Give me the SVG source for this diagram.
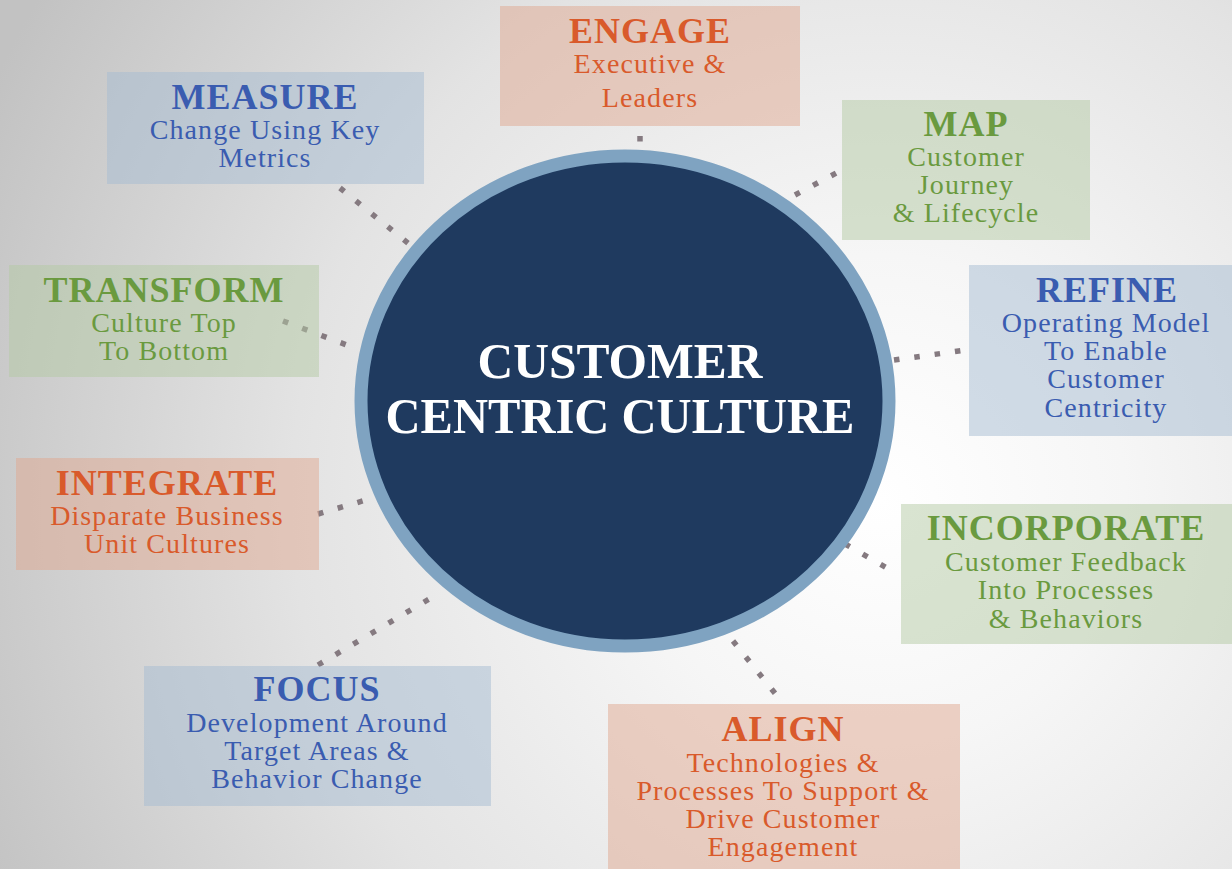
<svg xmlns="http://www.w3.org/2000/svg" width="1232" height="869" viewBox="0 0 1232 869">
<defs>
<radialGradient id="bg" cx="880" cy="500" r="980" gradientUnits="userSpaceOnUse">
<stop offset="0" stop-color="#ffffff"/>
<stop offset="0.25" stop-color="#f6f6f6"/>
<stop offset="0.6" stop-color="#e3e3e3"/>
<stop offset="1" stop-color="#c2c2c2"/>
</radialGradient>
<style>
.blue{fill:#a5bbd1;fill-opacity:0.5}
.orange{fill:#e0a890;fill-opacity:0.5}
.green{fill:#b3c9a3;fill-opacity:0.5}
text{font-family:"Liberation Serif","DejaVu Serif",serif;text-anchor:middle}
.t{font-size:36px;font-weight:bold;letter-spacing:1px}
.s{font-size:28px;letter-spacing:1.1px}
.tb{fill:#3a5cb0}
.to{fill:#d95a2b}
.tg{fill:#6a9a3f}
.dot{fill:none;stroke:#857a80;stroke-width:5.5;stroke-dasharray:5.5 15}
.c{fill:#ffffff;font-weight:bold;font-size:50px}
</style>
</defs>
<rect width="1232" height="869" fill="url(#bg)"/>
<g id="connectors">
<path class="dot" d="M340,188 L414,248"/>
<path class="dot" d="M640,136 L640,142"/>
<path class="dot" d="M795,195 L840,171"/>
<path class="dot" d="M894,360 L966,350"/>
<path class="dot" d="M845,544 L887,568"/>
<path class="dot" d="M733,641 L778,697"/>
<path class="dot" d="M318,665 L436,595"/>
<path class="dot" d="M318,514 L366,500"/>
<path class="dot" d="M283,321 L352,347"/>
</g>
<g id="center">
<ellipse cx="625" cy="401" rx="264" ry="245" fill="#1f3a5f" stroke="#7fa3c1" stroke-width="13"/>
<text class="c" x="620" y="378" textLength="285" lengthAdjust="spacingAndGlyphs">CUSTOMER</text>
<text class="c" x="620" y="433" textLength="469" lengthAdjust="spacingAndGlyphs">CENTRIC CULTURE</text>
</g>
<g id="measure">
<rect class="blue" x="107" y="72" width="317" height="112"/>
<text class="t tb" x="265" y="109">MEASURE</text>
<text class="s tb" x="265" y="139">Change Using Key</text>
<text class="s tb" x="265" y="167">Metrics</text>
</g>
<g id="engage">
<rect class="orange" x="500" y="6" width="300" height="120"/>
<text class="t to" x="650" y="43">ENGAGE</text>
<text class="s to" x="650" y="73">Executive &amp;</text>
<text class="s to" x="650" y="107">Leaders</text>
</g>
<g id="map">
<rect class="green" x="842" y="100" width="248" height="140"/>
<text class="t tg" x="966" y="136">MAP</text>
<text class="s tg" x="966" y="166">Customer</text>
<text class="s tg" x="966" y="194">Journey</text>
<text class="s tg" x="966" y="222">&amp; Lifecycle</text>
</g>
<g id="refine">
<rect class="blue" x="969" y="265" width="263" height="171"/>
<text class="t tb" x="1107" y="302">REFINE</text>
<text class="s tb" x="1106" y="332">Operating Model</text>
<text class="s tb" x="1106" y="360">To Enable</text>
<text class="s tb" x="1106" y="388">Customer</text>
<text class="s tb" x="1106" y="417">Centricity</text>
</g>
<g id="incorporate">
<rect class="green" x="901" y="504" width="331" height="140"/>
<text class="t tg" x="1066" y="540">INCORPORATE</text>
<text class="s tg" x="1066" y="571">Customer Feedback</text>
<text class="s tg" x="1066" y="599">Into Processes</text>
<text class="s tg" x="1066" y="628">&amp; Behaviors</text>
</g>
<g id="align">
<rect class="orange" x="608" y="704" width="352" height="165"/>
<text class="t to" x="783" y="741">ALIGN</text>
<text class="s to" x="783" y="772">Technologies &amp;</text>
<text class="s to" x="783" y="800">Processes To Support &amp;</text>
<text class="s to" x="783" y="828">Drive Customer</text>
<text class="s to" x="783" y="856">Engagement</text>
</g>
<g id="focus">
<rect class="blue" x="144" y="666" width="347" height="140"/>
<text class="t tb" x="317" y="701">FOCUS</text>
<text class="s tb" x="317" y="732">Development Around</text>
<text class="s tb" x="317" y="760">Target Areas &amp;</text>
<text class="s tb" x="317" y="788">Behavior Change</text>
</g>
<g id="integrate">
<rect class="orange" x="16" y="458" width="303" height="112"/>
<text class="t to" x="167" y="495">INTEGRATE</text>
<text class="s to" x="167" y="525">Disparate Business</text>
<text class="s to" x="167" y="553">Unit Cultures</text>
</g>
<g id="transform">
<rect class="green" x="9" y="265" width="310" height="112"/>
<text class="t tg" x="164" y="302">TRANSFORM</text>
<text class="s tg" x="164" y="332">Culture Top</text>
<text class="s tg" x="164" y="360">To Bottom</text>
</g>
</svg>
